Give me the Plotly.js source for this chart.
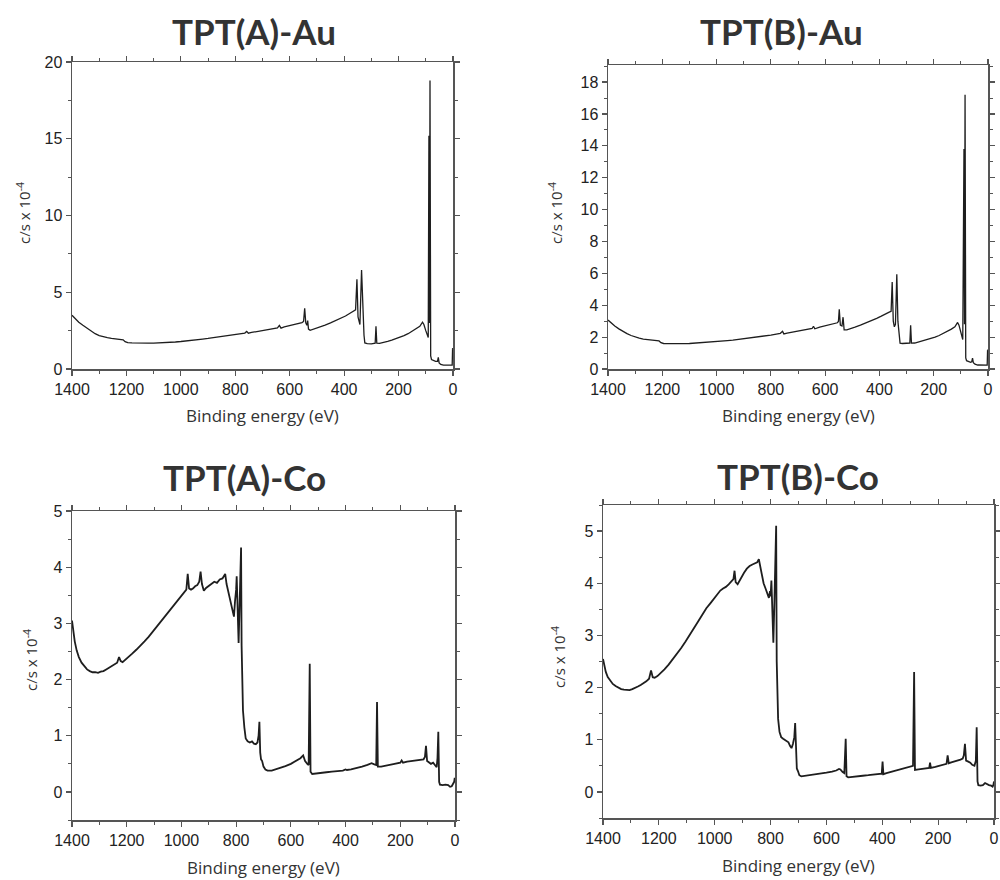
<!DOCTYPE html>
<html>
<head>
<meta charset="utf-8">
<script src="https://cdn.plot.ly/plotly-3.0.1.min.js"></script>
<style>html,body{margin:0;padding:0;background:#fff;}#chart{width:1000px;height:880px;}</style>
</head>
<body>
<div id="chart"></div>
<script>
// ---------- DATA (binding energy in eV, intensity in c/s x 10^-4) ----------
const panelTitles = ["TPT(A)-Au", "TPT(B)-Au", "TPT(A)-Co", "TPT(B)-Co"];
const xTitle = "Binding energy (eV)";
const yTitle = "c/s x 10<sup>-4</sup>";

const aAuE = [1400,1390,1375,1360,1345,1330,1315,1300,1285,1270,1255,1240,1225,1212,1205,1195,1180,1160,1140,1120,1100,1080,1060,1040,1020,1000,980,960,940,920,900,880,860,840,820,800,780,765,758,752,740,720,700,680,660,645,638,632,620,600,580,565,555,549,545,541,537,534,531,525,510,490,470,450,430,410,395,380,370,362,358,353,349,345,342,336,331,327,324,315,300,292,286,283,280,270,255,240,225,210,195,180,165,150,135,122,112,107,100,94,91,88.5,86.5,84.5,82,79,72,64,57,54,51,45,35,25,15,8,3,1.5,0];
const aAuI = [3.50,3.30,3.05,2.85,2.65,2.45,2.30,2.18,2.10,2.05,2.00,1.98,1.95,1.90,1.78,1.72,1.70,1.68,1.68,1.68,1.69,1.70,1.71,1.73,1.76,1.79,1.82,1.86,1.90,1.95,1.99,2.04,2.09,2.14,2.19,2.24,2.30,2.34,2.45,2.33,2.38,2.44,2.50,2.56,2.62,2.68,2.84,2.66,2.74,2.82,2.90,2.98,3.02,3.10,3.95,3.00,2.85,3.15,2.60,2.52,2.60,2.72,2.86,3.00,3.16,3.32,3.45,3.62,3.72,3.78,3.85,5.85,3.40,3.10,2.90,6.45,3.30,2.20,1.70,1.65,1.64,1.66,1.68,2.78,1.68,1.67,1.72,1.80,1.88,1.97,2.06,2.17,2.30,2.45,2.60,2.78,3.05,2.90,2.50,2.20,2.05,15.2,3.0,18.8,0.85,0.62,0.55,0.50,0.50,0.76,0.40,0.30,0.25,0.25,0.24,0.22,0.25,1.35,1.30];

const bAuE = [1400,1390,1375,1360,1345,1330,1315,1300,1285,1270,1255,1240,1225,1212,1205,1195,1180,1160,1140,1120,1100,1080,1060,1040,1020,1000,980,960,940,920,900,880,860,840,820,800,780,765,757,752,740,720,700,680,660,648,643,638,620,600,580,565,555,551,548,544,538,534,530,520,505,490,470,450,430,410,395,380,370,362,357,353,349,345,341,336,332,328,324,315,300,292,288,285,282,270,255,240,225,210,195,180,165,150,135,122,112,107,100,96,93,88.5,86.5,84.5,82,79,72,64,60,57,54,48,38,28,18,8,3,1.5,0];
const bAuI = [3.07,2.90,2.70,2.52,2.36,2.22,2.10,2.00,1.93,1.88,1.85,1.83,1.80,1.76,1.65,1.60,1.59,1.58,1.58,1.59,1.60,1.62,1.64,1.66,1.69,1.72,1.75,1.78,1.81,1.85,1.89,1.93,1.98,2.03,2.08,2.13,2.19,2.24,2.36,2.20,2.25,2.31,2.37,2.43,2.49,2.54,2.68,2.52,2.62,2.70,2.78,2.85,2.90,2.98,3.75,2.75,2.70,3.25,2.45,2.45,2.52,2.62,2.75,2.88,3.03,3.18,3.30,3.45,3.55,3.58,3.62,5.45,3.00,2.65,2.80,5.95,3.00,2.00,1.62,1.60,1.60,1.62,1.63,2.75,1.62,1.63,1.70,1.77,1.84,1.92,2.00,2.10,2.22,2.35,2.50,2.65,2.92,2.75,2.30,1.95,1.85,13.8,2.8,17.2,0.70,0.52,0.45,0.42,0.45,0.68,0.40,0.30,0.25,0.25,0.24,0.22,0.24,1.20,1.15];

const aCoE = [1400,1396,1390,1383,1375,1365,1355,1345,1335,1325,1315,1305,1295,1285,1275,1265,1255,1245,1235,1228,1222,1215,1205,1195,1180,1165,1150,1135,1120,1105,1090,1075,1060,1045,1030,1015,1000,990,982,977,972,965,958,950,942,935,930,925,918,910,900,890,880,870,860,850,840,835,828,820,813,808,804,800,798,794,791,787,782,780,778,775,770,765,758,750,742,735,728,722,718,715,712,709,705,700,693,685,670,655,640,620,600,580,565,555,548,540,535,531,528,522,510,490,470,450,430,410,400,395,380,360,340,320,305,295,288,285,282,270,250,230,215,200,195,190,175,160,140,125,115,110,106,102,95,88,80,72,67,64,61,58,55,45,35,25,18,12,7,3,1,0];
const aCoI = [3.05,2.85,2.68,2.52,2.40,2.30,2.23,2.18,2.15,2.13,2.13,2.12,2.14,2.15,2.18,2.21,2.24,2.27,2.30,2.40,2.33,2.31,2.35,2.39,2.46,2.53,2.60,2.68,2.76,2.85,2.94,3.03,3.12,3.21,3.30,3.40,3.49,3.56,3.60,3.88,3.62,3.60,3.62,3.66,3.68,3.74,3.92,3.70,3.58,3.63,3.67,3.70,3.74,3.72,3.78,3.80,3.88,3.70,3.55,3.40,3.20,3.12,3.40,3.60,3.84,3.20,2.65,3.40,4.35,2.60,1.70,1.45,1.15,0.95,0.90,0.88,0.90,0.86,0.85,0.88,1.00,1.25,0.70,0.58,0.55,0.45,0.40,0.38,0.38,0.40,0.42,0.46,0.50,0.55,0.60,0.65,0.55,0.50,0.48,2.28,0.36,0.32,0.33,0.34,0.35,0.36,0.37,0.38,0.40,0.39,0.40,0.42,0.45,0.48,0.51,0.49,0.48,1.60,0.45,0.45,0.47,0.49,0.51,0.52,0.56,0.52,0.54,0.55,0.57,0.58,0.58,0.62,0.82,0.55,0.52,0.50,0.52,0.46,0.44,0.60,1.07,0.18,0.13,0.12,0.13,0.12,0.09,0.10,0.15,0.18,0.25,0.20];

const bCoE = [1400,1396,1390,1383,1375,1365,1355,1345,1335,1325,1315,1305,1295,1285,1275,1265,1255,1245,1235,1228,1222,1215,1205,1195,1180,1165,1150,1135,1120,1105,1090,1075,1060,1045,1030,1015,1000,990,980,970,960,950,940,933,929,925,918,912,905,895,885,875,865,855,848,842,836,830,825,818,812,806,802,800,797,794,790,786,780,778,776,773,768,762,755,748,742,736,730,725,720,715,712,709,706,702,697,690,675,660,640,620,600,580,565,555,550,542,536,531,528,522,510,490,470,450,430,410,402,399,396,385,370,350,330,310,298,290,286,283,270,255,240,232,229,226,210,195,180,170,166,162,150,135,120,112,108,104,100,92,85,78,70,65,62,59,56,48,40,32,26,18,10,5,2,0];
const bCoI = [2.55,2.42,2.30,2.20,2.13,2.07,2.03,2.00,1.97,1.96,1.95,1.95,1.97,1.99,2.02,2.05,2.08,2.12,2.17,2.33,2.20,2.19,2.22,2.27,2.35,2.44,2.54,2.64,2.76,2.88,3.00,3.13,3.26,3.39,3.52,3.62,3.72,3.78,3.86,3.90,3.93,3.98,4.05,4.08,4.24,4.02,3.98,4.04,4.12,4.20,4.28,4.33,4.36,4.38,4.40,4.46,4.30,4.10,4.00,3.90,3.80,3.72,3.85,3.75,4.05,3.50,2.86,3.70,5.10,2.50,1.70,1.40,1.15,1.05,1.02,1.00,0.98,0.95,0.88,0.84,0.92,1.05,1.32,0.60,0.45,0.40,0.32,0.30,0.31,0.32,0.33,0.35,0.37,0.39,0.41,0.44,0.43,0.38,0.36,1.02,0.30,0.28,0.29,0.30,0.31,0.32,0.33,0.34,0.35,0.58,0.34,0.36,0.38,0.41,0.44,0.47,0.49,0.50,2.30,0.42,0.43,0.44,0.45,0.46,0.56,0.46,0.48,0.50,0.52,0.54,0.70,0.55,0.57,0.59,0.62,0.64,0.70,0.92,0.60,0.58,0.56,0.52,0.50,0.60,1.24,0.20,0.13,0.12,0.13,0.17,0.15,0.13,0.12,0.10,0.14,0.20];

const yRanges = [[0, 20], [0, 19.07], [-0.5, 5], [-0.5, 5.5]];
const yDticks = [5, 2, 1, 1];
const yMinor = [2.5, 1, 0.5, 0.5];

// ---------- LAYOUT GEOMETRY ----------
const W = 1000, H = 880;
const boxes = [ // left, right, top, bottom (pixels)
  [72, 453, 62, 369],
  [608, 988, 65, 369],
  [72, 455, 511, 820],
  [603, 994, 505, 818]
];
const titlePos = [[254, 31], [781, 31], [244, 477], [798, 476]];
const yTitlePos = [[23, 213], [555, 213], [30, 660], [558, 657]];

const series = [[aAuE, aAuI], [bAuE, bAuI], [aCoE, aCoI], [bCoE, bCoI]];
const lineW = [1.3, 1.3, 1.8, 1.8];

const axColor = '#555';
const tickFont = {family: 'Liberation Sans, Arial, sans-serif', size: 16, color: '#222'};
const yLabFont = {family: 'Open Sans, sans-serif', size: 15, color: '#333'};
const xLabFont = {family: 'Open Sans, sans-serif', size: 17, color: '#333'};

const traces = [];
const layout = {
  width: W, height: H,
  margin: {l: 0, r: 0, t: 0, b: 0},
  paper_bgcolor: '#fff', plot_bgcolor: '#fff',
  showlegend: false,
  annotations: []
};

series.forEach((s, i) => {
  const n = i === 0 ? '' : String(i + 1);
  traces.push({
    x: s[0], y: s[1], type: 'scatter', mode: 'lines',
    xaxis: 'x' + n, yaxis: 'y' + n,
    line: {color: '#1e1e1e', width: lineW[i]},
    hoverinfo: 'skip'
  });
  const b = boxes[i];
  const common = {
    showline: true, linecolor: axColor, linewidth: 1.5, mirror: 'ticks',
    ticks: 'outside', ticklen: 5, tickwidth: 1.2, tickcolor: axColor,
    showgrid: false, zeroline: false, tickfont: tickFont, fixedrange: true
  };
  layout['xaxis' + n] = Object.assign({}, common, {
    domain: [b[0] / W, b[1] / W], anchor: 'y' + n,
    range: [1400, 0], dtick: 200, tick0: 0,
    minor: {dtick: 100, ticks: 'outside', ticklen: 3, tickcolor: axColor, tickwidth: 1}
  });
  layout['yaxis' + n] = Object.assign({}, common, {
    domain: [1 - b[3] / H, 1 - b[2] / H], anchor: 'x' + n,
    range: yRanges[i], dtick: yDticks[i], tick0: 0,
    minor: {dtick: yMinor[i], ticks: 'outside', ticklen: 3, tickcolor: axColor, tickwidth: 1}
  });
  layout.annotations.push({
    text: panelTitles[i], xref: 'paper', yref: 'paper',
    x: titlePos[i][0] / W, y: 1 - titlePos[i][1] / H,
    xanchor: 'center', yanchor: 'middle', showarrow: false,
    font: {family: 'Lato, sans-serif', size: 35, color: '#333', weight: 700}
  });
  layout.annotations.push({
    text: xTitle, xref: 'paper', yref: 'paper',
    x: ((b[0] + b[1]) / 2) / W, y: 1 - (b[3] + 47) / H,
    xanchor: 'center', yanchor: 'middle', showarrow: false, font: xLabFont
  });
  layout.annotations.push({
    text: yTitle, xref: 'paper', yref: 'paper', textangle: -90,
    x: yTitlePos[i][0] / W, y: 1 - yTitlePos[i][1] / H,
    xanchor: 'center', yanchor: 'middle', showarrow: false, font: yLabFont
  });
});

Plotly.newPlot('chart', traces, layout, {staticPlot: true, displayModeBar: false});
</script>
</body>
</html>
